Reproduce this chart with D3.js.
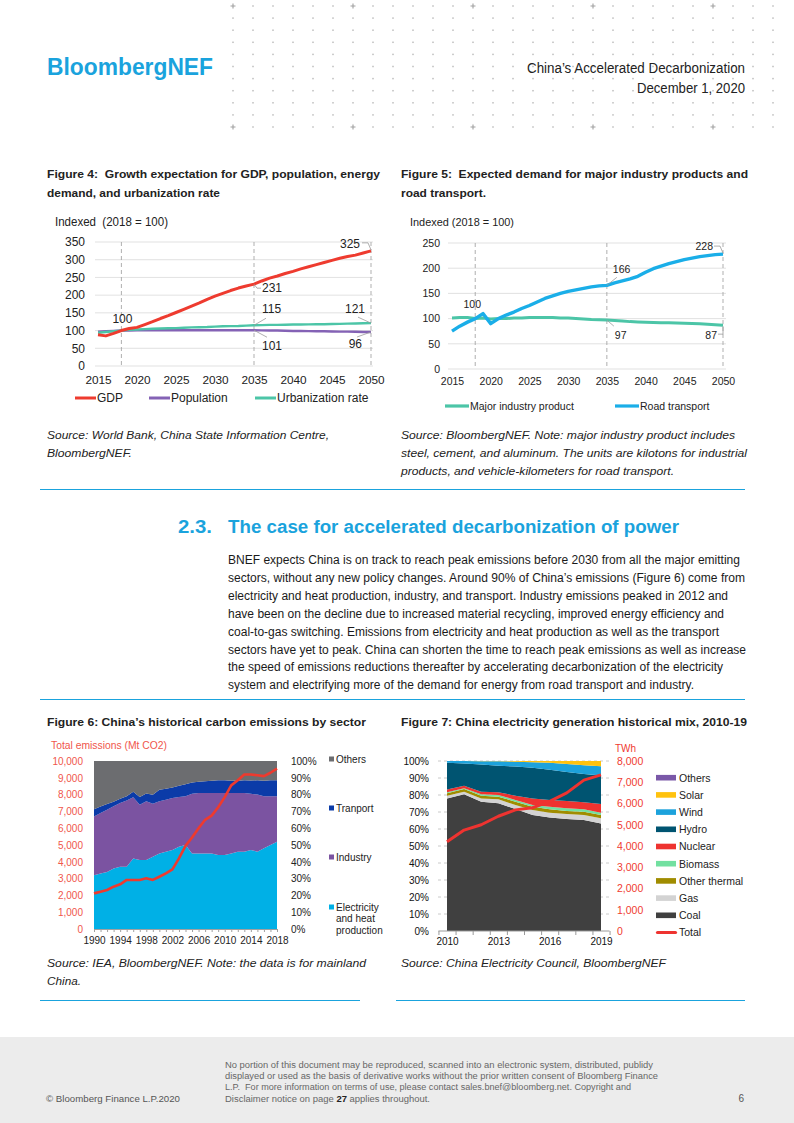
<!DOCTYPE html>
<meta charset="utf-8">
<head>
<title>China's Accelerated Decarbonization - page 6</title>
<style>
  html, body { margin: 0; padding: 0; background: #fff; }
  svg { display: block; font-family: "Liberation Sans", Arial, sans-serif; }
  text { white-space: pre; }
</style>
</head>
<body>
<svg id="page" width="794" height="1123"></svg>
<script src="https://cdn.jsdelivr.net/npm/d3@7"></script>
<script>
// ---------------- data ----------------
// Figure 4 (2015-2050, indexed 2018 = 100)
const xTicks4 = [2015, 2020, 2025, 2030, 2035, 2040, 2045, 2050];
const yTicks4 = [0, 50, 100, 150, 200, 250, 300, 350];
const markYears4 = [2018, 2035, 2050];
const gdp = [88, 85, 92, 100, 106, 109, 117, 125, 134, 142, 151, 160, 169, 178, 188, 197, 205, 213, 220, 226,
             231, 240, 248, 254, 261, 267, 274, 280, 286, 292, 298, 304, 309, 313, 319, 325];
const population = [97, 98, 99, 100, 100, 100.5, 101, 101, 101, 101, 101, 101, 101, 101, 101, 101, 101, 101, 101, 101,
                    101, 100.5, 100, 100, 99.5, 99, 99, 98.5, 98, 98, 97.5, 97, 97, 96.5, 96, 96];
const urbanization = [94, 96, 98, 100, 102, 103, 104, 105, 106, 106.5, 107, 108, 109, 109.5, 110, 111, 112, 112.5, 113, 114,
                      115, 115.5, 116, 116, 116.5, 117, 117, 117.5, 118, 118, 118.5, 119, 119.5, 120, 120.5, 121];

// Figure 5 (2015-2050, indexed 2018 = 100)
const yTicks5 = [0, 50, 100, 150, 200, 250];
const roadTransport = [75, 85, 93, 100, 110, 90, 100, 107, 113, 120, 126, 133, 140, 145, 150, 154, 157, 160, 163, 165,
                       166, 171, 175, 179, 184, 192, 199, 204, 209, 213, 217, 220, 223, 225, 227, 228];
const majorIndustry = [101, 102, 102, 100, 101, 99, 100, 100, 101, 101, 102, 102, 102, 102, 101, 101, 100, 99, 98, 97.5,
                       97, 96, 95, 94, 93.5, 93, 92.5, 92, 92, 91.5, 91, 90.5, 90, 89, 88, 87];

// Figure 6 (1990-2018), sector shares in % and total in Mt CO2
const xLabels6 = [1990, 1994, 1998, 2002, 2006, 2010, 2014, 2018];
const electricity6 = [32, 33, 34, 36, 37, 37, 42, 41, 41, 43, 45, 46, 47, 49, 50, 45, 45, 45, 45, 44, 44, 45, 46, 46, 47, 46, 48, 50, 52];
const industry6 = [35, 36, 37, 37, 38, 39.5, 36.4, 33, 35, 31.5, 31, 31, 31, 29.5, 29, 35.5, 36, 36, 36, 37, 37, 36, 35, 35, 33.5, 34, 31, 29, 27];
const transport6 = [4.3, 3.9, 3.4, 2.8, 2.5, 2.5, 3.3, 4.6, 4.6, 5.4, 6.9, 6.5, 6.3, 6.7, 7.1, 6.7, 6.7, 6.9, 7.3, 7.5, 7.5, 7.3, 7.3, 7.5, 7.9, 8.5, 9.3, 9.5, 9.5];
const others6 = [28.7, 27.1, 25.6, 24.2, 22.5, 21, 18.3, 21.4, 19.4, 20.1, 17.1, 16.5, 15.7, 14.8, 13.9, 12.8, 12.3, 12.1, 11.7, 11.5, 11.5, 11.7, 11.7, 11.5, 11.6, 11.5, 11.7, 11.5, 11.5];
const totalEmissions = [2120, 2220, 2320, 2520, 2660, 2920, 2920, 2920, 3020, 2920, 3110, 3310, 3550, 4200, 4950, 5450, 6000, 6500, 6750, 7250,
                        7850, 8550, 8850, 9200, 9200, 9150, 9100, 9300, 9550];

// Figure 7 (2010-2019), generation shares in % and total in TWh
const xLabels7 = [2010, 2013, 2016, 2019];
const coal7 = [78.0, 80.4, 76.1, 75.1, 71.8, 68.2, 66.7, 65.9, 65.3, 63.3];
const gas7 = [1.6, 1.5, 1.9, 2.4, 2.3, 3.0, 2.9, 2.9, 2.9, 3.0];
const otherThermal7 = [1.4, 1.6, 1.6, 1.5, 2.0, 1.9, 2.0, 1.8, 2.0, 1.9];
const biomass7 = [0.6, 0.4, 0.8, 1.0, 1.0, 1.0, 1.5, 1.6, 1.4, 1.4];
const nuclear7 = [1.7, 1.6, 1.5, 1.6, 2.5, 3.9, 4.0, 4.3, 4.1, 5.1];
const hydro7 = [15.6, 13.0, 16.0, 15.6, 17.2, 18.0, 17.8, 17.0, 16.6, 16.7];
const wind7 = [1.1, 1.5, 2.0, 2.6, 2.8, 3.3, 4.0, 4.7, 5.2, 5.5];
const solar7 = [0.0, 0.0, 0.1, 0.2, 0.4, 0.7, 1.1, 1.8, 2.5, 3.1];
const others7 = [0, 0, 0, 0, 0, 0, 0, 0, 0, 0];
const totalTWh = [4200, 4750, 5000, 5400, 5700, 5800, 6100, 6500, 7100, 7350];

// ---------------- helpers ----------------
const svg = d3.select('#page');
const narrow = '"Liberation Sans Narrow", "Arial Narrow", "Liberation Sans", sans-serif';
const blue = '#1aa3dd';

function txt(g, x, y, s, o = {}) {
  const t = g.append('text').attr('x', x).attr('y', y).text(s)
    .attr('font-size', o.size || 11).attr('fill', o.fill || '#222');
  if (o.anchor) t.attr('text-anchor', o.anchor);
  if (o.weight) t.attr('font-weight', o.weight);
  if (o.italic) t.attr('font-style', 'italic');
  if (o.family) t.attr('font-family', o.family);
  if (o.len) t.attr('textLength', o.len).attr('lengthAdjust', 'spacingAndGlyphs');
  return t;
}

function styleAxis(g, size, fill, keepTicks) {
  g.select('.domain').remove();
  if (!keepTicks) g.selectAll('.tick line').remove();
  g.attr('font-family', '"Liberation Sans", Arial, sans-serif').attr('font-size', size);
  g.selectAll('text').attr('fill', fill || '#222');
}

function leader(g, pts) {
  g.append('path').attr('d', d3.line()(pts)).attr('fill', 'none')
    .attr('stroke', '#9a9a9a').attr('stroke-width', 0.8);
}

// ---------------- header ----------------
const hdr = svg.append('g');
for (let c = 0; c < 28; c++) {
  for (let r = 0; r < 11; r++) {
    const x = 233 + c * 20, y = 6 + r * 12.1;
    if (c % 6 === 0 && (r === 0 || r === 10)) {
      hdr.append('path').attr('d', `M${x - 2.5},${y}H${x + 2.5}M${x},${y - 2.5}V${y + 2.5}`)
        .attr('stroke', '#a0a0a0').attr('stroke-width', 1.1);
    } else {
      hdr.append('rect').attr('x', x - 0.75).attr('y', y - 0.75).attr('width', 1.5).attr('height', 1.5)
        .attr('fill', '#bdbdbd');
    }
  }
}
txt(hdr, 47, 75, 'BloombergNEF', {size: 23, weight: 'bold', fill: blue, len: 166});
txt(hdr, 745, 73, 'China’s Accelerated Decarbonization', {size: 14, anchor: 'end', family: narrow, fill: '#222', len: 218});
txt(hdr, 745, 93, 'December 1, 2020', {size: 14, anchor: 'end', family: narrow, fill: '#222', len: 108});

// ---------------- Figure 4 ----------------
const f4 = svg.append('g');
txt(f4, 47, 178, 'Figure 4:  Growth expectation for GDP, population, energy', {size: 11.5, weight: 'bold', len: 333});
txt(f4, 47, 197, 'demand, and urbanization rate', {size: 11.5, weight: 'bold', len: 173});
txt(f4, 55, 226, 'Indexed  (2018 = 100)', {size: 12, len: 113});

const x4 = d3.scaleLinear().domain([2015, 2050]).range([98, 371]);
const y4 = d3.scaleLinear().domain([0, 350]).range([366, 242]);

f4.append('g').selectAll('line').data(yTicks4).join('line')
  .attr('x1', 95).attr('x2', 373).attr('y1', d => y4(d)).attr('y2', d => y4(d))
  .attr('stroke', '#d9d9d9').attr('stroke-width', 0.8);
f4.append('g').selectAll('line').data(markYears4).join('line')
  .attr('x1', d => x4(d)).attr('x2', d => x4(d)).attr('y1', y4(350)).attr('y2', y4(0))
  .attr('stroke', '#a6a6a6').attr('stroke-width', 0.9).attr('stroke-dasharray', '4,3');

const ay4 = f4.append('g').attr('transform', 'translate(95,0)')
  .call(d3.axisLeft(y4).tickValues(yTicks4).tickSize(0).tickPadding(10));
styleAxis(ay4, 12);
const ax4 = f4.append('g').attr('transform', `translate(0,${y4(0)})`)
  .call(d3.axisBottom(x4).tickValues(xTicks4).tickSize(0).tickPadding(9.5).tickFormat(d3.format('d')));
styleAxis(ax4, 11.8);

const line4 = d3.line().x((d, i) => x4(2015 + i)).y(d => y4(d)).curve(d3.curveLinear);
const series4 = [
  {name: 'Population', values: population, color: '#8462b5', w: 2.4},
  {name: 'Urbanization rate', values: urbanization, color: '#4cc5a7', w: 2.4},
  {name: 'GDP', values: gdp, color: '#ee3b2f', w: 3}
];
f4.append('g').selectAll('path').data(series4).join('path')
  .attr('d', d => line4(d.values)).attr('fill', 'none')
  .attr('stroke', d => d.color).attr('stroke-width', d => d.w).attr('stroke-linejoin', 'round');

// value labels
{
  const g = f4.append('g');
  const p = (yr, v) => [x4(yr), y4(v)];
  let [px, py] = p(2018, 100);
  txt(g, px + 1, py - 8, '100', {size: 12, anchor: 'middle'});
  [px, py] = p(2035, 231);
  leader(g, [[px, py], [px + 3, py + 4], [px + 7, py + 4]]);
  txt(g, px + 8, py + 8, '231', {size: 12});
  [px, py] = p(2035, 115);
  leader(g, [[px, py], [px + 12, py - 7]]);
  txt(g, px + 8, py - 12, '115', {size: 12});
  [px, py] = p(2035, 101);
  leader(g, [[px, py], [px + 13, py + 7]]);
  txt(g, px + 8, py + 20, '101', {size: 12});
  [px, py] = p(2050, 325);
  leader(g, [[px - 9, py - 8], [px - 3, py - 8], [px, py - 1]]);
  txt(g, px - 11, py - 3, '325', {size: 12, anchor: 'end'});
  [px, py] = p(2050, 121);
  leader(g, [[px, py], [px - 13, py - 6]]);
  txt(g, px - 6, py - 10, '121', {size: 12, anchor: 'end'});
  [px, py] = p(2050, 96);
  leader(g, [[px, py], [px - 14, py + 5]]);
  txt(g, px - 9, py + 16, '96', {size: 12, anchor: 'end'});
}

// legend
{
  const items = [
    {x: 75, name: 'GDP', color: '#ee3b2f'},
    {x: 149, name: 'Population', color: '#8462b5'},
    {x: 255, name: 'Urbanization rate', color: '#4cc5a7'}
  ];
  const lg = f4.append('g').selectAll('g').data(items).join('g')
    .attr('transform', d => `translate(${d.x},398)`);
  lg.append('line').attr('x1', 0).attr('x2', 21).attr('stroke', d => d.color).attr('stroke-width', 3);
  lg.append('text').attr('x', 22).attr('y', 4.3).attr('font-size', 12).attr('fill', '#222').text(d => d.name);
}
txt(f4, 47, 439, 'Source: World Bank, China State Information Centre,', {size: 11.3, italic: true, len: 282});
txt(f4, 47, 457, 'BloombergNEF.', {size: 11.3, italic: true, len: 85});

// ---------------- Figure 5 ----------------
const f5 = svg.append('g');
txt(f5, 401, 178, 'Figure 5:  Expected demand for major industry products and', {size: 11.5, weight: 'bold', len: 347});
txt(f5, 401, 197, 'road transport.', {size: 11.5, weight: 'bold', len: 85});
txt(f5, 410, 226, 'Indexed (2018 = 100)', {size: 11, len: 104});

const x5 = d3.scaleLinear().domain([2015, 2050]).range([452, 723]);
const y5 = d3.scaleLinear().domain([0, 250]).range([369, 243]);

f5.append('g').selectAll('line').data(yTicks5).join('line')
  .attr('x1', 448).attr('x2', 726).attr('y1', d => y5(d)).attr('y2', d => y5(d))
  .attr('stroke', '#d9d9d9').attr('stroke-width', 0.8);
f5.append('g').selectAll('line').data(markYears4).join('line')
  .attr('x1', d => x5(d)).attr('x2', d => x5(d)).attr('y1', y5(250)).attr('y2', y5(0))
  .attr('stroke', '#a6a6a6').attr('stroke-width', 0.9).attr('stroke-dasharray', '4,3');

const ay5 = f5.append('g').attr('transform', 'translate(448,0)')
  .call(d3.axisLeft(y5).tickValues(yTicks5).tickSize(0).tickPadding(8));
styleAxis(ay5, 10.5);
const ax5 = f5.append('g').attr('transform', `translate(0,${y5(0)})`)
  .call(d3.axisBottom(x5).tickValues(xTicks4).tickSize(0).tickPadding(8.5).tickFormat(d3.format('d')));
styleAxis(ax5, 10.5);

const line5 = d3.line().x((d, i) => x5(2015 + i)).y(d => y5(d));
const series5 = [
  {name: 'Major industry product', values: majorIndustry, color: '#4cc5a7', w: 3},
  {name: 'Road transport', values: roadTransport, color: '#1aaee8', w: 3.4}
];
f5.append('g').selectAll('path').data(series5).join('path')
  .attr('d', d => line5(d.values)).attr('fill', 'none')
  .attr('stroke', d => d.color).attr('stroke-width', d => d.w).attr('stroke-linejoin', 'round');

{
  const g = f5.append('g');
  const p = (yr, v) => [x5(yr), y5(v)];
  let [px, py] = p(2018, 100);
  txt(g, px - 3, py - 11, '100', {size: 10.5, anchor: 'middle'});
  [px, py] = p(2035, 166);
  leader(g, [[px, py], [px + 10, py - 8]]);
  txt(g, px + 6, py - 12, '166', {size: 10.5});
  [px, py] = p(2050, 228);
  leader(g, [[px - 9, py - 8], [px - 3, py - 8], [px, py - 1]]);
  txt(g, px - 10, py - 4, '228', {size: 10.5, anchor: 'end'});
  [px, py] = p(2035, 97);
  leader(g, [[px, py], [px + 7, py + 6]]);
  txt(g, px + 8, py + 19, '97', {size: 10.5});
  [px, py] = p(2050, 87);
  leader(g, [[px - 5, py + 9], [px, py + 9], [px, py + 1]]);
  txt(g, px - 6, py + 14, '87', {size: 10.5, anchor: 'end'});
}

{
  const items = [
    {x: 445, name: 'Major industry product', color: '#4cc5a7'},
    {x: 615, name: 'Road transport', color: '#1aaee8'}
  ];
  const lg = f5.append('g').selectAll('g').data(items).join('g')
    .attr('transform', d => `translate(${d.x},406)`);
  lg.append('line').attr('x1', 0).attr('x2', 24).attr('stroke', d => d.color).attr('stroke-width', 3.2);
  lg.append('text').attr('x', 25).attr('y', 3.8).attr('font-size', 10.5).attr('fill', '#222').text(d => d.name);
}
txt(f5, 401, 439, 'Source: BloombergNEF. Note: major industry product includes', {size: 11.3, italic: true, len: 334});
txt(f5, 401, 457, 'steel, cement, and aluminum. The units are kilotons for industrial', {size: 11.3, italic: true, len: 346});
txt(f5, 401, 475, 'products, and vehicle-kilometers for road transport.', {size: 11.3, italic: true, len: 273});

// rule under figures 4/5
svg.append('line').attr('x1', 40).attr('x2', 745).attr('y1', 489.5).attr('y2', 489.5)
  .attr('stroke', blue).attr('stroke-width', 1);

// ---------------- section text ----------------
const sec = svg.append('g');
txt(sec, 178, 533, '2.3.', {size: 18, weight: 'bold', fill: blue, len: 34});
txt(sec, 228, 533, 'The case for accelerated decarbonization of power', {size: 18, weight: 'bold', fill: blue, len: 451});
const bodyLines = [
  ['BNEF expects China is on track to reach peak emissions before 2030 from all the major emitting', 512],
  ['sectors, without any new policy changes. Around 90% of China’s emissions (Figure 6) come from', 517],
  ['electricity and heat production, industry, and transport. Industry emissions peaked in 2012 and', 500],
  ['have been on the decline due to increased material recycling, improved energy efficiency and', 496],
  ['coal-to-gas switching. Emissions from electricity and heat production as well as the transport', 491],
  ['sectors have yet to peak. China can shorten the time to reach peak emissions as well as increase', 518],
  ['the speed of emissions reductions thereafter by accelerating decarbonization of the electricity', 495],
  ['system and electrifying more of the demand for energy from road transport and industry.', 466]
];
bodyLines.forEach((l, i) => txt(sec, 228, 564 + i * 17.9, l[0], {size: 12, family: narrow, fill: '#1a1a1a', len: l[1]}));
svg.append('line').attr('x1', 40).attr('x2', 745).attr('y1', 699.5).attr('y2', 699.5)
  .attr('stroke', blue).attr('stroke-width', 1);

// ---------------- Figure 6 ----------------
const f6 = svg.append('g');
txt(f6, 47, 726, 'Figure 6: China’s historical carbon emissions by sector', {size: 11.5, weight: 'bold', len: 319});
txt(f6, 51, 749, 'Total emissions (Mt CO2)', {size: 10, fill: '#f0564b', len: 116});

const years6 = electricity6.map((_, i) => 1990 + i);
const x6 = d3.scaleLinear().domain([1990, 2018]).range([94, 277]);
const yL6 = d3.scaleLinear().domain([0, 10000]).range([929, 761]);
const yR6 = d3.scaleLinear().domain([0, 100]).range([929, 761]);

const rows6 = years6.map((yr, i) => ({year: yr, elec: electricity6[i], ind: industry6[i], trans: transport6[i], oth: others6[i]}));
const keys6 = ['elec', 'ind', 'trans', 'oth'];
const colors6 = {elec: '#00b0e6', ind: '#7b53a1', trans: '#0b3ba8', oth: '#6c6d70'};
const stack6 = d3.stack().keys(keys6)(rows6);
const area6 = d3.area().x(d => x6(d.data.year)).y0(d => yR6(d[0])).y1(d => yR6(d[1]));
f6.append('g').selectAll('path').data(stack6).join('path')
  .attr('d', area6).attr('fill', d => colors6[d.key]);

const ay6 = f6.append('g').attr('transform', 'translate(94,0)')
  .call(d3.axisLeft(yL6).ticks(10).tickSize(0).tickPadding(11).tickFormat(d3.format(',')));
styleAxis(ay6, 10, '#f0564b');
const ayR6 = f6.append('g').attr('transform', 'translate(277,0)')
  .call(d3.axisRight(yR6).ticks(10).tickSize(0).tickPadding(14).tickFormat(d => d + '%'));
styleAxis(ayR6, 10, '#222');
const ax6 = f6.append('g').attr('transform', 'translate(0,929)')
  .call(d3.axisBottom(x6).tickValues(years6).tickSize(3).tickPadding(5)
    .tickFormat(d => xLabels6.includes(d) ? d : ''));
ax6.attr('font-family', '"Liberation Sans", Arial, sans-serif').attr('font-size', 10);
ax6.select('.domain').attr('stroke', '#a0a0a0');
ax6.selectAll('.tick line').attr('stroke', '#a0a0a0');
ax6.selectAll('text').attr('fill', '#222');

f6.append('path').datum(totalEmissions)
  .attr('d', d3.line().x((d, i) => x6(years6[i])).y(d => yL6(d)))
  .attr('fill', 'none').attr('stroke', '#ee3a2e').attr('stroke-width', 2.6).attr('stroke-linejoin', 'round');

{
  const items = [
    {y: 759, lines: ['Others'], key: 'oth'},
    {y: 808, lines: ['Tranport'], key: 'trans'},
    {y: 857, lines: ['Industry'], key: 'ind'},
    {y: 907, lines: ['Electricity', 'and heat', 'production'], key: 'elec'}
  ];
  const lg = f6.append('g').selectAll('g').data(items).join('g')
    .attr('transform', d => `translate(329,${d.y})`);
  lg.append('rect').attr('x', 0).attr('y', -2.5).attr('width', 5).attr('height', 5).attr('fill', d => colors6[d.key]);
  lg.each(function (d) {
    d.lines.forEach((s, i) => txt(d3.select(this), 7, 3.6 + i * 11.6, s, {size: 10}));
  });
}
txt(f6, 47, 967, 'Source: IEA, BloombergNEF. Note: the data is for mainland', {size: 11.3, italic: true, len: 319});
txt(f6, 47, 985, 'China.', {size: 11.3, italic: true, len: 34});

// ---------------- Figure 7 ----------------
const f7 = svg.append('g');
txt(f7, 401, 726, 'Figure 7: China electricity generation historical mix, 2010-19', {size: 11.5, weight: 'bold', len: 346});
txt(f7, 615, 752, 'TWh', {size: 10, fill: '#f03a30'});

const years7 = coal7.map((_, i) => 2010 + i);
const x7 = d3.scaleLinear().domain([2010, 2019]).range([447, 601]);
const yL7 = d3.scaleLinear().domain([0, 100]).range([931, 761]);
const yR7 = d3.scaleLinear().domain([0, 8000]).range([931, 761]);

f7.append('g').selectAll('line').data(d3.range(10, 101, 10)).join('line')
  .attr('x1', 438).attr('x2', 609).attr('y1', d => yL7(d)).attr('y2', d => yL7(d))
  .attr('stroke', '#bdbdbd').attr('stroke-width', 0.8).attr('stroke-dasharray', '3,3');

const keys7 = ['Coal', 'Gas', 'Other thermal', 'Biomass', 'Nuclear', 'Hydro', 'Wind', 'Solar', 'Others'];
const vals7 = {'Coal': coal7, 'Gas': gas7, 'Other thermal': otherThermal7, 'Biomass': biomass7, 'Nuclear': nuclear7,
               'Hydro': hydro7, 'Wind': wind7, 'Solar': solar7, 'Others': others7};
const colors7 = {'Coal': '#404040', 'Gas': '#d3d3d3', 'Other thermal': '#a08c00', 'Biomass': '#72e0a0',
                 'Nuclear': '#ee3330', 'Hydro': '#005471', 'Wind': '#1ca2dc', 'Solar': '#ffc20e', 'Others': '#7a58a8'};
const rows7 = years7.map((yr, i) => {
  const r = {year: yr};
  keys7.forEach(k => r[k] = vals7[k][i]);
  return r;
});
const stack7 = d3.stack().keys(keys7)(rows7);
const area7 = d3.area().x(d => x7(d.data.year)).y0(d => yL7(d[0])).y1(d => yL7(d[1]));
f7.append('g').selectAll('path').data(stack7).join('path')
  .attr('d', area7).attr('fill', d => colors7[d.key]);

const ay7 = f7.append('g').attr('transform', 'translate(438,0)')
  .call(d3.axisLeft(yL7).ticks(10).tickSize(0).tickPadding(9).tickFormat(d => d + '%'));
styleAxis(ay7, 10, '#111');
const ayR7 = f7.append('g').attr('transform', 'translate(609,0)')
  .call(d3.axisRight(yR7).ticks(8).tickSize(0).tickPadding(8).tickFormat(d3.format(',')));
styleAxis(ayR7, 10.5, '#f03a30');

// category axis: ticks between years, labels every 3 years
const ax7 = f7.append('g').attr('transform', 'translate(0,931)');
ax7.append('line').attr('x1', x7(2009.5)).attr('x2', x7(2019.5)).attr('stroke', '#9a9a9a');
ax7.append('g').call(d3.axisBottom(x7).tickValues(d3.range(2009.5, 2020, 1)).tickSize(4).tickFormat(''))
  .call(g => { g.select('.domain').remove(); g.selectAll('.tick line').attr('stroke', '#9a9a9a'); });
const lab7 = ax7.append('g').call(d3.axisBottom(x7).tickValues(xLabels7).tickSize(0).tickPadding(7).tickFormat(d3.format('d')));
styleAxis(lab7, 10, '#111');

f7.append('path').datum(totalTWh)
  .attr('d', d3.line().x((d, i) => x7(years7[i])).y(d => yR7(d)))
  .attr('fill', 'none').attr('stroke', '#ee3330').attr('stroke-width', 3).attr('stroke-linejoin', 'round');

{
  const items = ['Others', 'Solar', 'Wind', 'Hydro', 'Nuclear', 'Biomass', 'Other thermal', 'Gas', 'Coal', 'Total'];
  const lg = f7.append('g').selectAll('g').data(items).join('g')
    .attr('transform', (d, i) => `translate(656,${777.7 + i * 17.2})`);
  lg.filter(d => d !== 'Total').append('rect')
    .attr('x', 0).attr('y', -2.8).attr('width', 20).attr('height', 5.6).attr('fill', d => colors7[d]);
  lg.filter(d => d === 'Total').append('line')
    .attr('x1', 1.5).attr('x2', 19.5).attr('stroke', '#ee3330').attr('stroke-width', 3.2).attr('stroke-linecap', 'round');
  lg.append('text').attr('x', 23).attr('y', 3.8).attr('font-size', 10.5).attr('fill', '#222').text(d => d);
}
txt(f7, 401, 967, 'Source: China Electricity Council, BloombergNEF', {size: 11.3, italic: true, len: 265});

// rules under figures 6/7
svg.append('line').attr('x1', 40).attr('x2', 360).attr('y1', 1000.5).attr('y2', 1000.5)
  .attr('stroke', blue).attr('stroke-width', 1);
svg.append('line').attr('x1', 396).attr('x2', 745).attr('y1', 1000.5).attr('y2', 1000.5)
  .attr('stroke', blue).attr('stroke-width', 1);

// ---------------- footer ----------------
const ft = svg.append('g');
ft.append('rect').attr('x', 0).attr('y', 1037).attr('width', 794).attr('height', 86).attr('fill', '#ececec');
txt(ft, 46, 1102, '© Bloomberg Finance L.P.2020', {size: 8.5, family: narrow, fill: '#555', len: 134});
const disc = [
  ['No portion of this document may be reproduced, scanned into an electronic system, distributed, publidy', 428],
  ['displayed or used as the basis of derivative works without the prior written consent of Bloomberg Finance', 433],
  ['L.P.  For more information on terms of use, please contact sales.bnef@bloomberg.net. Copyright and', 406]
];
disc.forEach((l, i) => txt(ft, 225, 1068 + i * 11.2, l[0], {size: 8.5, family: narrow, fill: '#666', len: l[1]}));
{
  const t = ft.append('text').attr('x', 225).attr('y', 1101.6).attr('font-size', 8.5)
    .attr('font-family', narrow).attr('fill', '#666')
    .attr('textLength', 205).attr('lengthAdjust', 'spacingAndGlyphs');
  t.append('tspan').text('Disclaimer notice on page ');
  t.append('tspan').attr('font-weight', 'bold').attr('fill', '#222').text('27');
  t.append('tspan').text(' applies throughout.');
}
txt(ft, 744, 1102, '6', {size: 10, fill: '#555', anchor: 'end'});
</script>
</body>
</html>
